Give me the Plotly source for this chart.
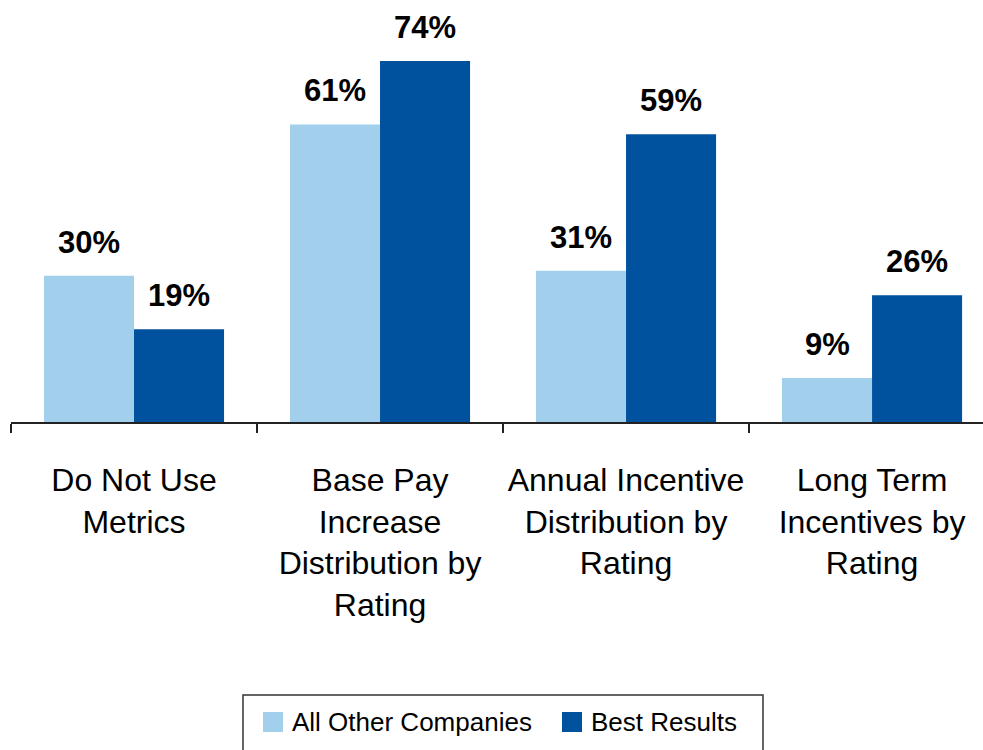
import plotly.graph_objects as go

categories = ["Do Not Use<br>Metrics",
              "Base Pay<br>Increase<br>Distribution by<br>Rating",
              "Annual Incentive<br>Distribution by<br>Rating",
              "Long Term<br>Incentives by<br>Rating"]
series_names = ["All Other Companies", "Best Results"]
all_other = [30, 61, 31, 9]
best_results = [19, 74, 59, 26]
colors = ["#a2cfeb", "#00529f"]

FONT = "Liberation Sans Narrow, Arial Narrow, Liberation Sans, Arial, sans-serif"
W, H = 983, 750
ML, MB = 11, 328

# helpers for placing the legend box in pixel terms
def px(x):
    return (x - ML) / (W - ML)

def py(y):
    return (H - MB - y) / (H - MB)

fig = go.Figure()
for name, vals, col in zip(series_names, [all_other, best_results], colors):
    fig.add_trace(go.Bar(x=categories, y=vals, name=name, marker_color=col,
                         marker_line_width=0, showlegend=False))

# value labels above bars
for vals, shift in [(all_other, -45), (best_results, 45)]:
    for cat, v in zip(categories, vals):
        fig.add_annotation(x=cat, y=v, xref="x", yref="y", text="<b>%d%%</b>" % v,
                           showarrow=False, yanchor="bottom", xshift=shift, yshift=14,
                           font=dict(family=FONT, size=31, color="black"))

# legend drawn by hand so the swatches are the right size
fig.add_shape(type="rect", xref="paper", yref="paper", x0=px(243), x1=px(763),
              y0=py(695), y1=py(760), line=dict(color="#333", width=1.5),
              fillcolor="white")
for name, col, sx in zip(series_names, colors, [263, 562]):
    fig.add_shape(type="rect", xref="paper", yref="paper", x0=px(sx), x1=px(sx + 20),
                  y0=py(712), y1=py(732), line_width=0, fillcolor=col)
    fig.add_annotation(x=px(sx + 27), y=py(722), xref="paper", yref="paper", text=name,
                       showarrow=False, xanchor="left", yanchor="middle",
                       font=dict(family=FONT, size=26, color="black"))

fig.update_layout(
    width=W, height=H,
    margin=dict(l=ML, r=0, t=0, b=MB),
    barmode="group", bargap=0.268, bargroupgap=0,
    plot_bgcolor="white", paper_bgcolor="white",
    font=dict(family=FONT, color="black"),
)
fig.update_xaxes(range=[-0.5, 3.451], showline=True, linecolor="#222", linewidth=1.5,
                 ticks="outside", tickson="boundaries", ticklen=9, tickwidth=1.5,
                 tickcolor="#222", tickfont=dict(family=FONT, size=32, color="black"),
                 ticklabelstandoff=29, tickangle=0, showgrid=False)
fig.update_yaxes(range=[0, 86.5], visible=False, showgrid=False)

fig.write_html("out.html", config={"displayModeBar": False},
               post_script="document.body.style.margin='0';")
